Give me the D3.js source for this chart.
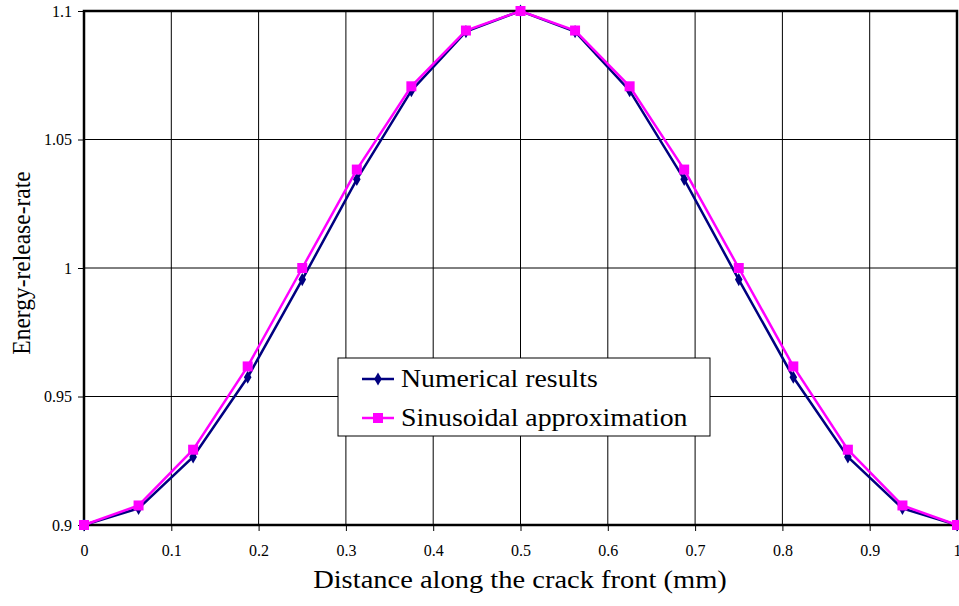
<!DOCTYPE html>
<html><head><meta charset="utf-8">
<script src="https://cdn.jsdelivr.net/npm/d3@7"></script>
<style>body{margin:0;background:#fff}svg{display:block;font-family:"Liberation Serif","Times New Roman",serif}</style>
</head><body><svg id="c" width="959" height="606"></svg>
<script>
const xs = [0, 0.0625, 0.125, 0.1875, 0.25, 0.3125, 0.375, 0.4375, 0.5, 0.5625, 0.625, 0.6875, 0.75, 0.8125, 0.875, 0.9375, 1];
const numerical = [0.9, 0.9065, 0.9265, 0.9575, 0.9955, 1.0345, 1.069, 1.092, 1.1, 1.092, 1.069, 1.0345, 0.9955, 0.9575, 0.9265, 0.9065, 0.9];
const sinusoidal = [0.9, 0.9076, 0.9293, 0.9617, 1.0, 1.0383, 1.0707, 1.0924, 1.1, 1.0924, 1.0707, 1.0383, 1.0, 0.9617, 0.9293, 0.9076, 0.9];
const xTicks = [0, 0.1, 0.2, 0.3, 0.4, 0.5, 0.6, 0.7, 0.8, 0.9, 1];
const yTicks = [0.9, 0.95, 1, 1.05, 1.1];
const seriesNames = ["Numerical results", "Sinusoidal approximation"];

const svg = d3.select("#c");
const L = 84, R = 957, T = 11, B = 525;
const x = d3.scaleLinear().domain([0, 1]).range([L, R]);
const y = d3.scaleLinear().domain([0.9, 1.1]).range([B, T]);

// grid
svg.append("g").selectAll("line").data(xTicks).join("line")
  .attr("x1", d => x(d)).attr("x2", d => x(d)).attr("y1", T).attr("y2", B)
  .attr("stroke", "#000").attr("stroke-width", 1);
svg.append("g").selectAll("line").data(yTicks).join("line")
  .attr("x1", L).attr("x2", R).attr("y1", d => y(d)).attr("y2", d => y(d))
  .attr("stroke", "#000").attr("stroke-width", 1);

// axes
const fmt = d => String(+d.toFixed(2));
const xa = svg.append("g").attr("transform", `translate(0,${B})`)
  .call(d3.axisBottom(x).tickValues(xTicks).tickFormat(fmt).tickSize(6).tickPadding(14));
const ya = svg.append("g").attr("transform", `translate(${L},0)`)
  .call(d3.axisLeft(y).tickValues(yTicks).tickFormat(fmt).tickSize(6).tickPadding(6));
[xa, ya].forEach(a => {
  a.select(".domain").remove();
  a.selectAll("text").attr("font-size", 16).attr("font-family", "Liberation Serif").attr("fill", "#000");
  a.selectAll("line").attr("stroke", "#000");
});

// frame
svg.append("rect").attr("x", L).attr("y", T).attr("width", R - L).attr("height", B - T)
  .attr("fill", "none").attr("stroke", "#000").attr("stroke-width", 2.5);

const line = d3.line().x(d => x(d[0])).y(d => y(d[1]));
const numPts = xs.map((v, i) => [v, numerical[i]]);
const sinPts = xs.map((v, i) => [v, sinusoidal[i]]);

svg.append("path").datum(numPts).attr("d", line).attr("fill", "none")
  .attr("stroke", "#000080").attr("stroke-width", 2.5);
const diamond = d3.symbol().type(d3.symbolDiamond).size(50);
svg.append("g").selectAll("path").data(numPts).join("path")
  .attr("transform", d => `translate(${x(d[0])},${y(d[1])})`).attr("d", diamond).attr("fill", "#000080");

svg.append("path").datum(sinPts).attr("d", line).attr("fill", "none")
  .attr("stroke", "#FF00FF").attr("stroke-width", 2.5);
svg.append("g").selectAll("rect").data(sinPts).join("rect")
  .attr("x", d => x(d[0]) - 5).attr("y", d => y(d[1]) - 5).attr("width", 10).attr("height", 10)
  .attr("fill", "#FF00FF");

// legend
const lg = svg.append("g");
lg.append("rect").attr("x", 338).attr("y", 358).attr("width", 372).attr("height", 78)
  .attr("fill", "#fff").attr("stroke", "#000").attr("stroke-width", 1);
const cols = ["#000080", "#FF00FF"];
[[379, 387], [418, 426]].forEach(([yy, base], i) => {
  lg.append("line").attr("x1", 362).attr("x2", 394).attr("y1", yy).attr("y2", yy)
    .attr("stroke", cols[i]).attr("stroke-width", 2.5);
  if (i === 0) lg.append("path").attr("transform", `translate(378,${yy})`).attr("d", diamond).attr("fill", cols[0]);
  else lg.append("rect").attr("x", 373).attr("y", yy - 5).attr("width", 10).attr("height", 10).attr("fill", cols[1]);
  lg.append("text").attr("transform", `translate(401,${base}) scale(1.07,1)`).attr("font-size", 26)
    .attr("fill", "#000").text(seriesNames[i]);
});

// titles
svg.append("text").attr("transform", `translate(520,588) scale(1.14,1)`).attr("text-anchor", "middle")
  .attr("font-size", 25).attr("fill", "#000").text("Distance along the crack front (mm)");
svg.append("text").attr("transform", `translate(30,263) rotate(-90) scale(1,1.1)`).attr("text-anchor", "middle")
  .attr("font-size", 23.5).attr("fill", "#000").text("Energy-release-rate");
</script></body></html>
